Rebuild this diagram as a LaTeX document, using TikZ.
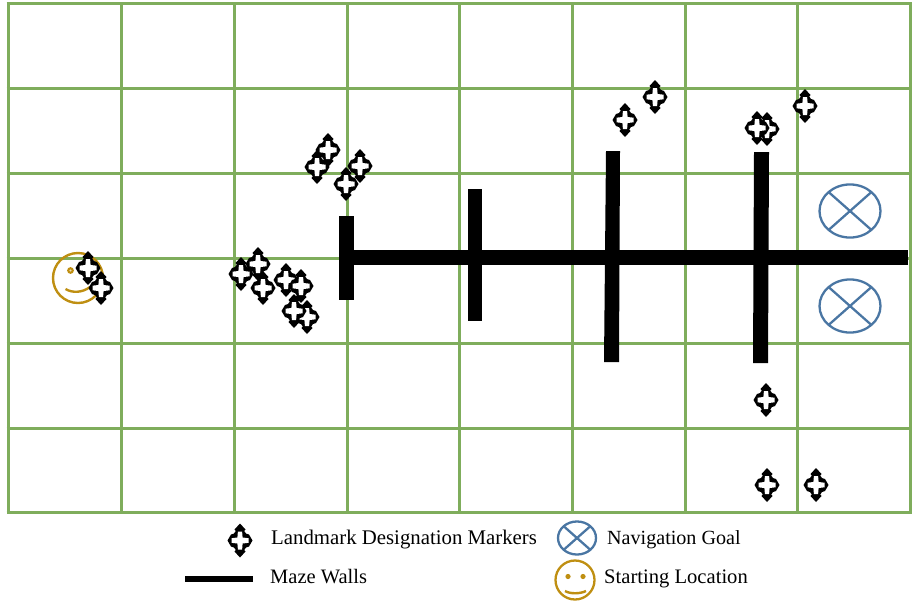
\documentclass[tikz,border=0pt]{standalone}
\usepackage{fontspec}
\setmainfont{Liberation Serif}
\usetikzlibrary{positioning,calc,shapes.geometric}
\definecolor{mazeGridLine}{HTML}{7FAD5C}
\definecolor{mazeGoalLine}{HTML}{4A76A3}
\definecolor{mazeStartLine}{HTML}{BF8F12}
\tikzset{
  grid line/.style={draw=mazeGridLine, line width=3pt},
  maze wall/.style={fill=black, draw=none},
  legend text/.style={anchor=west, inner sep=0pt, font=\fontsize{#1}{23}\selectfont},
  landmark/.pic={
    \fill[black]
      (0,-17) -- (5.5,-11) -- (4.2,-9.5) -- (6,-7) -- (9,-6) -- (12.5,0)
      -- (9,6) -- (6,7) -- (4.2,9.5) -- (5.5,11) -- (0,17)
      -- (-5.5,11) -- (-4.2,9.5) -- (-6,7) -- (-9,6) -- (-12.5,0)
      -- (-9,-6) -- (-6,-7) -- (-4.2,-9.5) -- (-5.5,-11) -- cycle;
    \fill[white]
      (-2.1,-9) -- (2.1,-9) -- (2.6,-3) -- (8.5,-2.3) -- (8.5,2.3)
      -- (2.6,3) -- (2.1,9) -- (-2.1,9) -- (-2.6,3) -- (-8.5,2.3)
      -- (-8.5,-2.3) -- (-2.6,-3) -- cycle;
  },
  navgoal/.pic={
    \draw[mazeGoalLine, line width=2.3pt] (0,0) ellipse (#1 and 0.87*#1);
    \draw[mazeGoalLine, line width=2.3pt]
      (-0.7*#1,-0.62*#1) -- (0.7*#1,0.62*#1)
      (-0.7*#1,0.62*#1) -- (0.7*#1,-0.62*#1);
  },
}
\begin{document}
\begin{tikzpicture}[x=1pt, y=-1pt]
\useasboundingbox (0,0) rectangle (912,600);

%% maze grid
\foreach \gx in {8,121,234,347,459,572,685,797,910}
  \draw[grid line] (\gx,3) -- (\gx,512);
\foreach \gy in {3,88,173,258,343,428,512}
  \draw[grid line] (6.5,\gy) -- (911.5,\gy);

%% start location
\draw[mazeStartLine, line width=2.4pt] (78,278) circle (25);
\fill[mazeStartLine] (70.5,270.5) circle (3.4);
\fill[white!70!mazeStartLine] (70.5,270.5) circle (1.2);
\draw[mazeStartLine, line width=2.4pt] (65.5,289) .. controls (72,293) and (82,293) .. (90,287);

%% walls
\fill[maze wall] (347,250) rectangle (908,264.5);
\fill[maze wall] (339,216) rectangle (354,300);
\fill[maze wall] (468,189) rectangle (482,321);
\fill[maze wall] (606,151) -- (620,151) -- (619,362) -- (604,362) -- cycle;
\fill[maze wall] (754,152) -- (769,152) -- (768,363) -- (753,363) -- cycle;

%% goals
\pic at (850,211) {navgoal=30.5};
\pic at (850,306) {navgoal=30.5};

%% markers
\foreach \mx/\my in {88/268,101/288,241/274,258/264,263/288,286/280,301/286,
    307/317,294/311,328/150,317/167,360/166,346/184,625/120,655/97,
    767/129,757/128,805/106,766/400,767/485,816/485}
  \pic at (\mx,\my) {landmark};

%% legend
\pic at (240,540.5) {landmark};
\node[legend text=20.8] (lblMarkers) at (271,539.5) {Landmark Designation Markers};
\pic at (577,538) {navgoal=19};
\node[legend text=20.1] (lblGoal) at (607,539.5) {Navigation Goal};
\fill[maze wall] (185,576) rectangle (253,582);
\node[legend text=20.5] (lblWalls) at (270,577) {Maze Walls};
\draw[mazeStartLine, line width=2.3pt] (575,580) circle (19.5);
\fill[mazeStartLine] (568,576.5) circle (2.6);
\fill[mazeStartLine] (583,576.5) circle (2.6);
\draw[mazeStartLine, line width=2.4pt] (565,591) .. controls (570,594) and (580,594) .. (586,591);
\node[legend text=20.6] (lblStart) at (604,578.5) {Starting Location};

\end{tikzpicture}
\end{document}
